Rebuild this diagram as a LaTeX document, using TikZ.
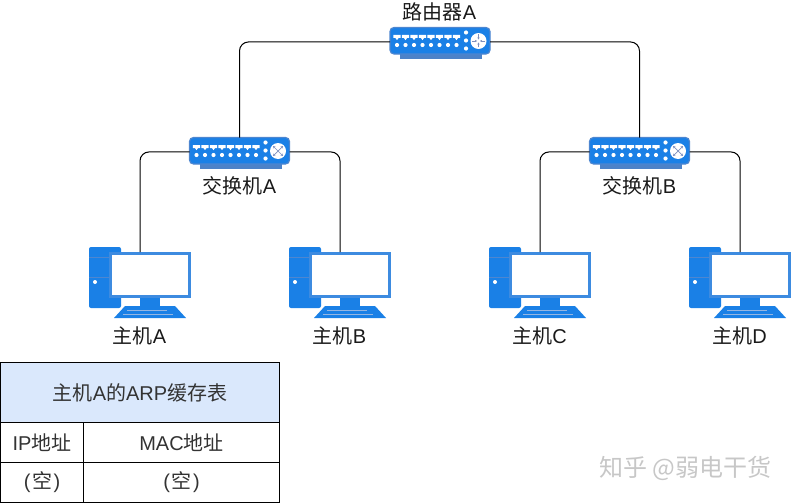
\documentclass[tikz,border=0pt]{standalone}
\usepackage{fontspec}
\setmainfont{Noto Sans CJK SC}
\newfontfamily\latinfont{Liberation Sans}
\newcommand{\lat}[1]{{\latinfont #1}}
\newcommand{\emptycell}{\lat{(}\kern1.5pt 空\kern1.5pt\lat{)}}
\definecolor{devblue}{HTML}{1A80E6}
\definecolor{devedge}{HTML}{4D86D0}
\definecolor{devbase}{HTML}{4C82C8}
\definecolor{monframe}{HTML}{3D8BE0}
\definecolor{arrowgrey}{HTML}{7E8FBE}
\definecolor{txt}{HTML}{1A1A1A}
\definecolor{tabletxt}{HTML}{333333}
\definecolor{hdrfill}{HTML}{DAE8FC}
\tikzset{
  x=1pt,y=-1pt,
  lbl/.style={font=\fontsize{20}{22}\selectfont,text=txt,inner sep=0pt},
  tlbl/.style={draw=black,line width=0.9pt,font=\fontsize{20}{22}\selectfont,text=tabletxt,inner sep=0pt,outer sep=0pt,anchor=north west},
  devbody/.style={fill=devblue,draw=devedge,line width=1.2pt,rounded corners=4pt,minimum width=100pt,minimum height=26.5pt,inner sep=0pt,outer sep=0pt},
  wire/.style={draw=black,line width=1pt,rounded corners=9pt},
  hostbody/.style={minimum width=79pt,minimum height=43pt,inner sep=0pt,outer sep=0pt,fill=white,draw=monframe,line width=3pt},
}
\usetikzlibrary{arrows.meta}
% #1 node name, #2 left, #3 top, #4 icon kind (0 router, 1 switch)
\newcommand{\netdevice}[4]{
  \fill[devbase] (#2+10,#3+24) rectangle (#2+92,#3+31);
  \node[devbody,anchor=north west] (#1) at (#2,#3) {};
  \foreach \i in {0,...,7}{
    \fill[white] ({#2+7+8.5*\i-3.6},#3+7.5) -- ({#2+7+8.5*\i+3.6},#3+7.5) -- ({#2+7+8.5*\i+3.6},#3+10.5) -- ({#2+7+8.5*\i+1.6},#3+10.5) -- ({#2+7+8.5*\i},#3+12.6) -- ({#2+7+8.5*\i-1.6},#3+10.5) -- ({#2+7+8.5*\i-3.6},#3+10.5) -- cycle;
    \fill[white] ({#2+7+8.5*\i},#3+17.5) circle (2.1);
  }
  \foreach \j in {5,13,21}{\fill[white] (#2+76,#3+\j) circle (2.1);}
  \fill[white] (#2+88.5,#3+13.5) circle (8);
  \ifnum#4=0
    \draw[arrowgrey,line width=0.6pt,-{Stealth[length=2.2pt,width=2.4pt]}] (#2+88.5,#3+7) -- (#2+88.5,#3+12);
    \draw[arrowgrey,line width=0.6pt,-{Stealth[length=2.2pt,width=2.4pt]}] (#2+88.5,#3+20) -- (#2+88.5,#3+15);
    \draw[arrowgrey,line width=0.6pt,-{Stealth[length=2.2pt,width=2.4pt]}] (#2+82,#3+13.5) -- (#2+87,#3+13.5);
    \draw[arrowgrey,line width=0.6pt,-{Stealth[length=2.2pt,width=2.4pt]}] (#2+95,#3+13.5) -- (#2+90,#3+13.5);
  \else
    \draw[arrowgrey,line width=0.7pt,{Stealth[length=2.4pt,width=2.6pt]}-{Stealth[length=2.4pt,width=2.6pt]}] (#2+83.5,#3+8.5) -- (#2+93.5,#3+18.5);
    \draw[arrowgrey,line width=0.7pt,{Stealth[length=2.4pt,width=2.6pt]}-{Stealth[length=2.4pt,width=2.6pt]}] (#2+93.5,#3+8.5) -- (#2+83.5,#3+18.5);
  \fi
}
% #1 connection point name, #2 left of tower, #3 top of tower
\newcommand{\hosticon}[3]{
  \fill[devblue,rounded corners=2pt] (#2,#3) rectangle (#2+32,#3+61);
  \draw[devedge,line width=0.9pt] (#2,#3+10) -- (#2+20,#3+10) (#2,#3+30) -- (#2+20,#3+30);
  \fill[white] (#2+6,#3+35) circle (2);
  \fill[devblue] (#2+51,#3+50) rectangle (#2+71,#3+60);
  \fill[devblue] (#2+36,#3+59) -- (#2+86,#3+59) -- (#2+97,#3+71) -- (#2+25,#3+71) -- cycle;
  \draw[devedge!60!white,line width=1pt] (#2+38,#3+63) -- (#2+78,#3+63) (#2+34,#3+67) -- (#2+84,#3+67);
  \node[hostbody,anchor=north west] (#1box) at (#2+21.5,#3+6.5) {};
  \coordinate (#1) at (#2+51,#3+5);
}
\begin{document}
\begin{tikzpicture}
\useasboundingbox (0,0) rectangle (791,503);
\netdevice{rt}{390}{27.5}{0}
\netdevice{swa}{189.5}{137.5}{1}
\netdevice{swb}{589.5}{137.5}{1}
\hosticon{ha}{89}{247}
\hosticon{hb}{289}{247}
\hosticon{hc}{489}{247}
\hosticon{hd}{689}{247}
\draw[wire] ([yshift=-1.2pt]rt.west) -| (swa.north);
\draw[wire] ([yshift=-1.2pt]rt.east) -| (swb.north);
\draw[wire] ([yshift=-1.2pt]swa.west) -| (ha);
\draw[wire] ([yshift=-1.2pt]swa.east) -| (hb);
\draw[wire] ([yshift=-1.2pt]swb.west) -| (hc);
\draw[wire] ([yshift=-1.2pt]swb.east) -| (hd);
\node[lbl] (trt) at (439.5,12) {路由器\lat{A}};
\node[lbl] (tswa) at (239.5,186) {交换机\lat{A}};
\node[lbl] (tswb) at (639.5,186) {交换机\lat{B}};
\node[lbl] (tha) at (139.5,336) {主机\lat{A}};
\node[lbl] (thb) at (339.5,336) {主机\lat{B}};
\node[lbl] (thc) at (539.5,336) {主机\lat{C}};
\node[lbl] (thd) at (739.5,336) {主机\lat{D}};
\node[tlbl,fill=hdrfill,minimum width=279pt,minimum height=60pt] (hdr) at (0.5,362.5) {主机\lat{A}的\lat{ARP}缓存表};
\node[tlbl,minimum width=83pt,minimum height=40pt] (ip) at (0.5,422.5) {\lat{IP}地址};
\node[tlbl,minimum width=196pt,minimum height=40pt] (mac) at (83.5,422.5) {\lat{MAC}地址};
\node[tlbl,minimum width=83pt,minimum height=40pt] (e1) at (0.5,462.5) {\emptycell};
\node[tlbl,minimum width=196pt,minimum height=40pt] (e2) at (83.5,462.5) {\emptycell};
\node[font=\fontsize{24}{28}\selectfont,text=black!22,inner sep=0pt] (wm) at (685.5,468) {知乎 @弱电干货};
\end{tikzpicture}
\end{document}
